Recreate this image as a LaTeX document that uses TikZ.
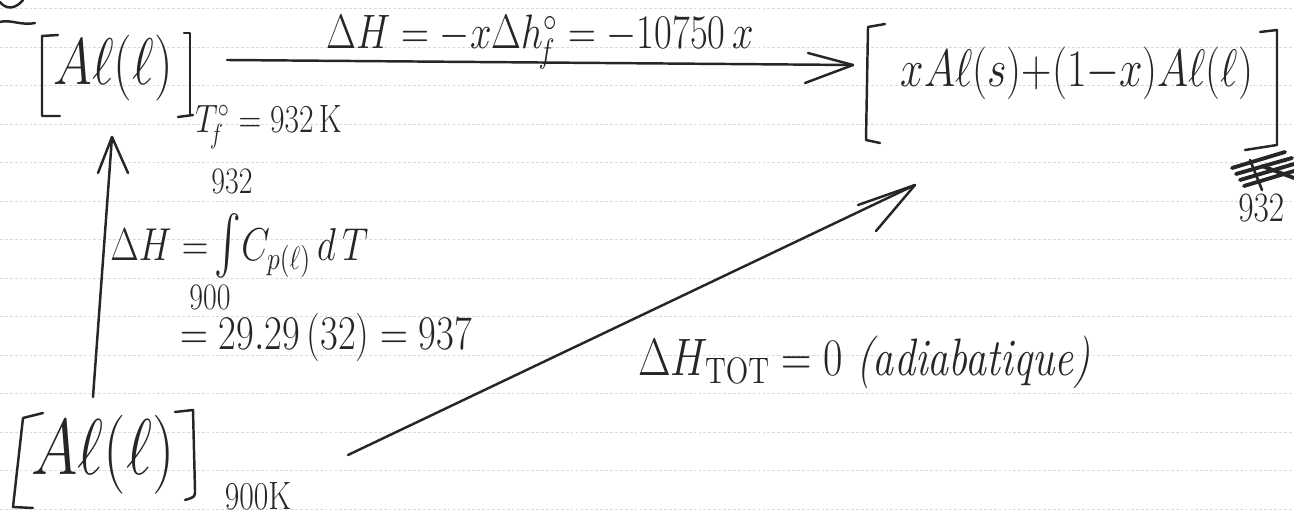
\IfFileExists{fix-cm.sty}{\RequirePackage{fix-cm}}{}
\documentclass[tikz,border=0pt]{standalone}
\usepackage{amsmath}
\usepackage{graphicx}
\newcommand{\hwtext}[1]{\scalebox{1}[1.25]{#1}}
\newcommand{\fsz}[1]{\fontsize{#1}{#1}\selectfont}
\begin{document}
\begin{tikzpicture}[x=0.02cm,y=-0.02cm,
  ink/.style={line width=1.4pt, draw=black!85, line cap=round, line join=round},
  lbl/.style={inner sep=0pt, text=black!85},
  rule/.style={draw=black!14, line width=0.35pt, dash pattern=on 1.6pt off 1.2pt}]
\fill[white] (0,0) rectangle (1294,520);
\clip (0,0) rectangle (1294,520);
% notebook ruling
\foreach \k in {0,...,13}
  \draw[rule] (0,8.5+38.5*\k) -- (1294,8.5+38.5*\k);
% corner marks
\draw[ink] (0,2) .. controls (6,10) and (16,9) .. (23,0);
\draw[ink] (0,22) .. controls (10,19) and (22,26) .. (35,23);

% top-left state
\node[lbl] (n1) at (113,68) {\fsz{30}\hwtext{$A\ell(\ell)$}};
\draw[ink] (58,35) -- (42,36) -- (42,116) -- (60,116);
\draw[ink] (184,33) -- (190,33) -- (190,115);
\draw[ink] (178,117) -- (193,115);
\node[lbl, anchor=west] (s1) at (195,127) {\fsz{18}\hwtext{$T^{\circ}_{\!f} = 932\,\mathrm{K}$}};

% right state
\node[lbl] (n2) at (1077,73) {\fsz{24}\hwtext{$xA\ell(s){+}(1{-}x)A\ell(\ell)$}};
\draw[ink] (885,24) -- (868,27) -- (866,140) -- (880,143);
\draw[ink] (1260,32) -- (1277,30) -- (1277,145) -- (1245,150);

% bottom-left state
\node[lbl] (n3) at (103,455) {\fsz{36}\hwtext{$A\ell(\ell)$}};
\draw[ink] (43,413) -- (23,418) -- (13,507) -- (33,508);
\draw[ink] (175,412) -- (193,410) -- (195,490) .. controls (195,497) .. (185,500);
\node[lbl] (s3) at (258,496) {\fsz{18}\hwtext{$900\mathrm{K}$}};

% top arrow
\coordinate (ta) at (227,60);
\coordinate (tb) at (853,65);
\draw[ink] (ta) -- (tb);
\draw[ink] (tb) -- +(-45,-12);
\draw[ink] (tb) -- +(-48,18);
\node[lbl] (lt) at (540,42) {\fsz{22}\hwtext{$\Delta H = -x\Delta h^{\circ}_{\!f} = -10750\,x$}};

% vertical arrow
\coordinate (va) at (93,397);
\coordinate (vb) at (112,137);
\draw[ink] (va) -- (vb);
\draw[ink] (vb) -- +(-14,36);
\draw[ink] (vb) -- +(16,36);
\node[lbl, anchor=west] (int) at (110,246) {\fsz{21}\hwtext{$\Delta H =$}\,\scalebox{1.1}[1.6]{$\int$}\hwtext{$C_{p(\ell)}\,d\,T$}};
\node[lbl] (up) at (232,181) {\fsz{17}\hwtext{$932$}};
\node[lbl] (lo) at (210,297) {\fsz{17}\hwtext{$900$}};
\node[lbl, anchor=west] (eq) at (180,337) {\fsz{22}\hwtext{$= 29.29\,(32) = 937$}};

% diagonal arrow
\coordinate (da) at (348,455);
\coordinate (db) at (915,185);
\draw[ink] (da) -- (db);
\draw[ink] (db) -- +(-57,20);
\draw[ink] (db) -- +(-39,46);
\node[lbl, anchor=west] (tot) at (638,362) {\fsz{24}\hwtext{$\Delta H_{\mathrm{TOT}} = 0$ \textit{(adiabatique)}}};

% scribble at right edge
\draw[ink, line width=2.2pt] (1232,168) -- (1285,152);
\draw[ink, line width=2.2pt] (1236,174) -- (1292,158);
\draw[ink, line width=2.2pt] (1240,180) -- (1294,164);
\draw[ink, line width=2.2pt] (1244,186) -- (1294,171);
\draw[ink, line width=2.2pt] (1262,166) -- (1294,178);
\draw[ink, line width=1.5pt] (1250,160) -- (1262,190);
\node[lbl, anchor=west] (s932) at (1238,208) {\fsz{19}\hwtext{$932$}};
\end{tikzpicture}
\end{document}
